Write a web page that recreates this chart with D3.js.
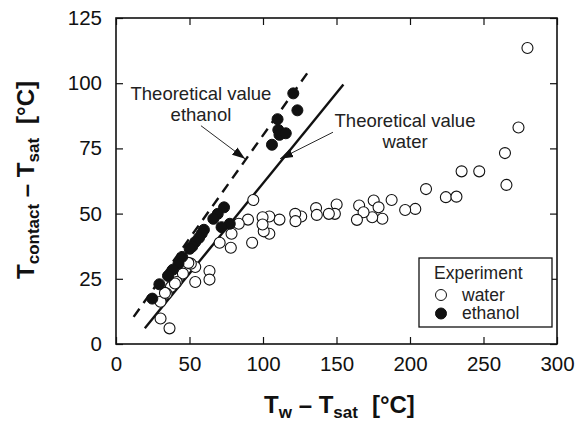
<!DOCTYPE html>
<html>
<head>
<meta charset="utf-8">
<script src="https://cdn.jsdelivr.net/npm/d3@7"></script>
<style>
  body { margin: 0; background: #fff; }
  svg { font-family: "Liberation Sans", Arial, sans-serif; }
</style>
</head>
<body>
<div id="chart"></div>
<script>
// water experiment [Tw - Tsat, Tcontact - Tsat]
const waterData = [
  [279.9, 113.5], [273.8, 83], [264.6, 73.2], [265.6, 61], [235.1, 66.2], [247.1, 66.2],
  [224.4, 56.3], [231.6, 56.5], [210.9, 59.4], [203.6, 51.8], [196.7, 51.4], [187.5, 55.2],
  [175.3, 55], [178.6, 52.4], [181.2, 48], [174.3, 48.6], [165.4, 53.1], [168.4, 50.5],
  [163.9, 47.6], [150.1, 53.5], [148.9, 49.9], [144.8, 49.9], [136.1, 52.1], [136.6, 49.5],
  [126, 48.9], [121.9, 49.9], [122.1, 47.1], [111.2, 47.7], [104.3, 48.9], [104.3, 42.3],
  [99.7, 48.6], [100.5, 43.2], [99.7, 45.8], [93.4, 55.2], [89.8, 47.7], [92.6, 38.8],
  [83.5, 46.1], [78.6, 42.3], [78.1, 36.9], [70.5, 38.8], [63.6, 28], [63.6, 24.7],
  [53.9, 29.5], [53.9, 23.8], [50.9, 30.8], [45.5, 27], [41.2, 23.8], [37.4, 21.9],
  [34.4, 19.3], [30.3, 16.2], [30.3, 9.8], [36.4, 6], [33.3, 19.6], [40.1, 23.2], [49.2, 31.1]
];
// ethanol experiment
const ethanolData = [
  [120.6, 96.1], [123.4, 89.6], [109.9, 86.2], [110.4, 82.1], [111.2, 80.2], [115.5, 80.8],
  [106.1, 76.4], [73.5, 52.4], [69.2, 49.9], [66.2, 48], [77.4, 46.1], [71.8, 44.8],
  [59.8, 43.8], [58.3, 42.3], [56.5, 40.7], [53.9, 39.1], [51.9, 37.4], [50.1, 36.5],
  [45, 33.4], [42.5, 30.8], [38.7, 28.5], [35.4, 26.1], [29.5, 22.9], [24.7, 17.4]
];
// theoretical lines (end points)
const ethanolTheory = [[12, 10.4], [130.3, 104]];
const waterTheory = [[19.6, 6], [154.7, 99.5]];

const xTicks = [0, 50, 100, 150, 200, 250, 300];
const yTicks = [0, 25, 50, 75, 100, 125];

const width = 584, height = 426;
const margin = {top: 18, right: 27, bottom: 82, left: 116};

const svg = d3.select('#chart').append('svg')
    .attr('width', width)
    .attr('height', height);

const x = d3.scaleLinear().domain([0, 300]).range([margin.left, width - margin.right]);
const y = d3.scaleLinear().domain([0, 125]).range([height - margin.bottom, margin.top]);

svg.append('defs').append('marker')
    .attr('id', 'arrow')
    .attr('viewBox', '0 0 10 10')
    .attr('refX', 10).attr('refY', 5)
    .attr('markerWidth', 13).attr('markerHeight', 13)
    .attr('markerUnits', 'userSpaceOnUse')
    .attr('orient', 'auto')
    .append('path')
    .attr('d', 'M0,1.5 L10,5 L0,8.5 Z')
    .attr('fill', '#111');

// axes with inward ticks on all four sides
const tickLen = 7;
svg.append('g')
    .attr('transform', `translate(0,${y(0)})`)
    .call(d3.axisBottom(x).tickValues(xTicks).tickSizeInner(-tickLen).tickSizeOuter(0).tickPadding(12))
    .call(g => g.selectAll('text').attr('font-size', 20.5).attr('fill', '#111'));
svg.append('g')
    .attr('transform', `translate(0,${y(125)})`)
    .call(d3.axisTop(x).tickValues(xTicks).tickSizeInner(-tickLen).tickSizeOuter(0).tickFormat(''));
svg.append('g')
    .attr('transform', `translate(${x(0)},0)`)
    .call(d3.axisLeft(y).tickValues(yTicks).tickSizeInner(-tickLen).tickSizeOuter(0).tickPadding(14))
    .call(g => g.selectAll('text').attr('font-size', 20.5).attr('fill', '#111'));
svg.append('g')
    .attr('transform', `translate(${x(300)},0)`)
    .call(d3.axisRight(y).tickValues(yTicks).tickSizeInner(-tickLen).tickSizeOuter(0).tickFormat(''));
svg.selectAll('.domain').remove();
svg.selectAll('.tick line').attr('stroke', '#111').attr('stroke-width', 1.2);

svg.append('rect')
    .attr('x', x(0)).attr('y', y(125))
    .attr('width', x(300) - x(0)).attr('height', y(0) - y(125))
    .attr('fill', 'none').attr('stroke', '#111').attr('stroke-width', 1.6);

// theory lines
const line = d3.line().x(d => x(d[0])).y(d => y(d[1]));
svg.append('path').datum(ethanolTheory).attr('d', line)
    .attr('stroke', '#111').attr('stroke-width', 2.4).attr('stroke-dasharray', '10,7').attr('fill', 'none');
svg.append('path').datum(waterTheory).attr('d', line)
    .attr('stroke', '#111').attr('stroke-width', 2.4).attr('fill', 'none');

// points
svg.append('g').selectAll('circle')
    .data(waterData).join('circle')
    .attr('cx', d => x(d[0])).attr('cy', d => y(d[1])).attr('r', 5.5)
    .attr('fill', '#fff').attr('stroke', '#111').attr('stroke-width', 1.1);
svg.append('g').selectAll('circle')
    .data(ethanolData).join('circle')
    .attr('cx', d => x(d[0])).attr('cy', d => y(d[1])).attr('r', 5.5)
    .attr('fill', '#111').attr('stroke', '#111').attr('stroke-width', 1);

// annotations
const annot = svg.append('g').attr('font-size', 18.5).attr('fill', '#222').attr('text-anchor', 'middle');
annot.append('text').attr('x', x(57.8)).attr('y', y(93.7)).text('Theoretical value');
annot.append('text').attr('x', x(57.8)).attr('y', y(85.6)).text('ethanol');
annot.append('text').attr('x', x(196.6)).attr('y', y(83.1)).text('Theoretical value');
annot.append('text').attr('x', x(196.6)).attr('y', y(75.3)).text('water');

svg.append('line')
    .attr('x1', x(57.8)).attr('y1', y(83.7)).attr('x2', x(87.8)).attr('y2', y(71))
    .attr('stroke', '#111').attr('stroke-width', 0.9).attr('marker-end', 'url(#arrow)');
svg.append('line')
    .attr('x1', x(147.6)).attr('y1', y(81.2)).attr('x2', x(111.6)).attr('y2', y(71))
    .attr('stroke', '#111').attr('stroke-width', 0.9).attr('marker-end', 'url(#arrow)');

// legend
const lg = svg.append('g').attr('transform', 'translate(419,258)');
lg.append('rect')
    .attr('width', 133).attr('height', 69)
    .attr('fill', '#fff').attr('stroke', '#111').attr('stroke-width', 1.3);
lg.append('text').attr('x', 15).attr('y', 21)
    .attr('font-size', 17.5).attr('fill', '#222').text('Experiment');
const legendItems = [
  {label: 'water', fill: '#fff'},
  {label: 'ethanol', fill: '#111'}
];
legendItems.forEach((it, i) => {
  const cy = 37 + i * 18.5;
  lg.append('circle').attr('cx', 22).attr('cy', cy).attr('r', 5.5)
      .attr('fill', it.fill).attr('stroke', '#111');
  lg.append('text').attr('x', 43).attr('y', cy + 5.5)
      .attr('font-size', 17.5).attr('fill', '#222').text(it.label);
});

// axis titles
function title(sel, sub1) {
  sel.attr('text-anchor', 'middle').attr('font-size', 24).attr('font-weight', 'bold').attr('fill', '#111');
  sel.append('tspan').text('T');
  sel.append('tspan').attr('font-size', 17).attr('dy', 5).text(sub1);
  sel.append('tspan').attr('dy', -5).text(' \u2013 T');
  sel.append('tspan').attr('font-size', 17).attr('dy', 5).text('sat');
  sel.append('tspan').attr('dy', -5).attr('dx', 14).text('[\u00B0C]');
}
svg.append('text')
    .attr('x', x(152)).attr('y', 413)
    .call(title, 'w');
svg.append('text')
    .attr('transform', `translate(34,180) rotate(-90)`)
    .call(title, 'contact');
</script>
</body>
</html>
